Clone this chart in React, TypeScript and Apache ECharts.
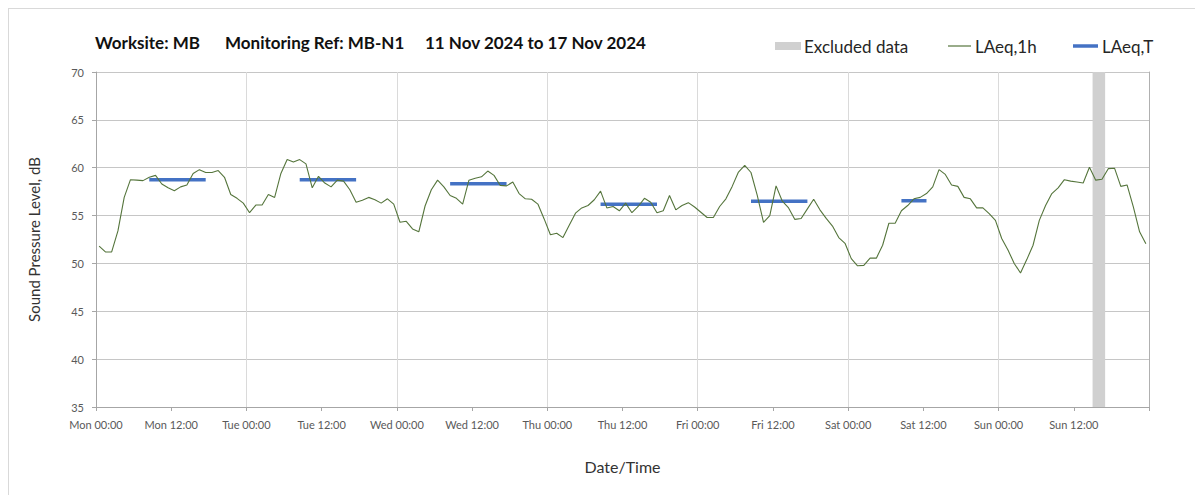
import React, { useEffect, useRef } from "react";
import * as echarts from "echarts";

const dayNames = ["Mon", "Tue", "Wed", "Thu", "Fri", "Sat", "Sun"];

// Hourly LAeq,1h values, Mon 00:00 -> Sun 23:00 (168 hours)
const laeq1h = [
  51.8, 51.2, 51.2, 53.4, 56.9, 58.75, 58.7, 58.65, 59.0, 59.2, 58.3, 57.9,
  57.6, 58.0, 58.2, 59.4, 59.8, 59.5, 59.5, 59.7, 59.0, 57.2, 56.8, 56.3,
  55.3, 56.1, 56.1, 57.2, 56.9, 59.4, 60.85, 60.6, 60.85, 60.4, 57.9, 59.1,
  58.4, 58.0, 58.7, 58.6, 57.7, 56.4, 56.6, 56.9, 56.65, 56.3, 56.75, 56.2,
  54.3, 54.4, 53.6, 53.3, 56.0, 57.7, 58.7, 58.0, 57.1, 56.8, 56.2, 58.7,
  58.9, 59.05, 59.65, 59.2, 58.15, 58.1, 58.5, 57.3, 56.75, 56.7, 56.2, 54.65,
  53.0, 53.15, 52.7, 54.0, 55.25, 55.8, 56.05, 56.65, 57.55, 55.8, 55.95, 55.5,
  56.3, 55.3, 55.95, 56.8, 56.4, 55.3, 55.5, 57.1, 55.6, 56.05, 56.35, 55.9,
  55.35, 54.8, 54.8, 55.95, 56.75, 58.05, 59.55, 60.25, 59.5, 57.1, 54.3, 55.0,
  58.1, 56.5, 55.8, 54.6, 54.7, 55.7, 56.7, 55.6, 54.7, 53.9, 52.7, 52.1,
  50.5, 49.75, 49.8, 50.55, 50.55, 51.9, 54.2, 54.2, 55.5, 56.05, 56.75, 56.9,
  57.3, 58.0, 59.8, 59.3, 58.2, 58.05, 56.9, 56.75, 55.8, 55.8, 55.2, 54.5,
  52.6, 51.4, 50.0, 49.0, 50.4, 51.9, 54.5, 56.05, 57.3, 57.9, 58.75, 58.6,
  58.5, 58.4, 60.05, 58.7, 58.8, 59.9, 59.95, 58.05, 58.2, 55.9, 53.3, 52.05,
];

// LAeq,T periods (hour index of first and last hour) and levels
const periodStart = [8, 32, 56, 80, 104, 128];
const periodEnd = [17, 41, 65, 89, 113, 132];
const laeqT = [58.75, 58.75, 58.33, 56.17, 56.5, 56.55];

// Excluded data (hour range)
const excludedStart = [159];
const excludedEnd = [161];

const yTicks = { min: 35, max: 70, step: 5 };
const titleParts = [
  "Worksite: MB",
  "Monitoring Ref: MB-N1",
  "11 Nov 2024 to 17 Nov 2024",
];
const legendNames = ["Excluded data", "LAeq,1h", "LAeq,T"];

const FONT = "Lato, 'Noto Sans', sans-serif";

export default function App() {
  const ref = useRef<HTMLDivElement>(null);

  useEffect(() => {
    if (!ref.current) return;
    const chart = echarts.init(ref.current, undefined, { renderer: "svg" });

    const lineData = laeq1h.map((v, i) => [i + 0.5, v]);
    const tData: any[] = [];
    periodStart.forEach((s, k) => {
      tData.push([s + 0.5, laeqT[k]]);
      tData.push([periodEnd[k] + 0.5, laeqT[k]]);
      tData.push([periodEnd[k] + 1, null]);
    });

    const green = "#55753c";
    const blue = "#4472C4";
    const grey = "#d0d0d0";

    chart.setOption({
      animation: false,
      grid: { left: 87, right: 46, top: 63, bottom: 88, containLabel: false },
      xAxis: {
        type: "value",
        min: 0,
        max: 168,
        interval: 12,
        name: "Date/Time",
        nameLocation: "middle",
        nameGap: 51,
        nameTextStyle: { fontFamily: FONT, fontSize: 16, color: "#333" },
        axisLine: { show: true, lineStyle: { color: "#a6a6a6" } },
        axisTick: { show: true, length: 4, lineStyle: { color: "#a6a6a6" } },
        axisLabel: {
          fontFamily: FONT,
          fontSize: 11,
          color: "#595959",
          margin: 12,
          formatter: (v: number) =>
            v >= 168
              ? ""
              : `${dayNames[Math.floor(v / 24)]} ${v % 24 === 0 ? "00" : "12"}:00`,
        },
        splitLine: {
          show: true,
          lineStyle: { color: ["#dadada", "rgba(0,0,0,0)"], width: 1 },
        },
      },
      yAxis: [
        {
          type: "value",
          min: yTicks.min,
          max: yTicks.max,
          interval: yTicks.step,
          name: "Sound Pressure Level, dB",
          nameLocation: "middle",
          nameGap: 55,
          nameTextStyle: { fontFamily: FONT, fontSize: 15, color: "#333" },
          axisLine: { show: true, lineStyle: { color: "#a6a6a6" } },
          axisTick: { show: true, length: 4, lineStyle: { color: "#a6a6a6" } },
          axisLabel: { fontFamily: FONT, fontSize: 11, color: "#595959", margin: 12 },
          splitLine: { show: true, lineStyle: { color: "#c6c6c6", width: 1 } },
        },
        {
          type: "value",
          position: "right",
          min: yTicks.min,
          max: yTicks.max,
          interval: yTicks.step,
          axisLine: { show: true, lineStyle: { color: "#b0b0b0" } },
          axisTick: { show: false },
          axisLabel: { show: false },
          splitLine: { show: false },
        },
      ],
      series: [
        {
          name: legendNames[0],
          type: "line",
          data: [],
          z: 1,
          markArea: {
            silent: true,
            itemStyle: { color: grey },
            data: excludedStart.map((s, k) => [{ xAxis: s }, { xAxis: excludedEnd[k] }]),
          },
        },
        {
          name: legendNames[2],
          type: "line",
          data: tData,
          symbol: "none",
          connectNulls: false,
          z: 3,
          lineStyle: { color: blue, width: 3.5 },
        },
        {
          name: legendNames[1],
          type: "line",
          data: lineData,
          symbol: "none",
          z: 4,
          lineStyle: { color: green, width: 1.1 },
        },
      ],
      graphic: [
        {
          type: "text",
          x: 86,
          y: 33,
          style: { text: titleParts[0], font: `bold 17px ${FONT}`, fill: "#111", textVerticalAlign: "middle" },
        },
        {
          type: "text",
          x: 216,
          y: 33,
          style: { text: titleParts[1], font: `bold 17px ${FONT}`, fill: "#111", textVerticalAlign: "middle" },
        },
        {
          type: "text",
          x: 416,
          y: 33,
          style: { text: titleParts[2], font: `bold 17px ${FONT}`, fill: "#111", textVerticalAlign: "middle" },
        },
        { type: "rect", shape: { x: 766, y: 33, width: 26, height: 8 }, style: { fill: grey } },
        {
          type: "text",
          x: 795,
          y: 37,
          style: { text: legendNames[0], font: `17px ${FONT}`, fill: "#262626", textVerticalAlign: "middle" },
        },
        {
          type: "line",
          shape: { x1: 939, y1: 37, x2: 962, y2: 37 },
          style: { stroke: green, lineWidth: 1.2 },
        },
        {
          type: "text",
          x: 966,
          y: 37,
          style: { text: legendNames[1], font: `17px ${FONT}`, fill: "#262626", textVerticalAlign: "middle" },
        },
        {
          type: "line",
          shape: { x1: 1064, y1: 37, x2: 1089, y2: 37 },
          style: { stroke: blue, lineWidth: 3.5 },
        },
        {
          type: "text",
          x: 1093,
          y: 37,
          style: { text: legendNames[2], font: `17px ${FONT}`, fill: "#262626", textVerticalAlign: "middle" },
        },
      ],
    });

    return () => chart.dispose();
  }, []);

  return (
    <div
      ref={ref}
      style={{ width: 1186, height: 486, border: "1px solid #d9d9d9", background: "#fff" }}
    />
  );
}
